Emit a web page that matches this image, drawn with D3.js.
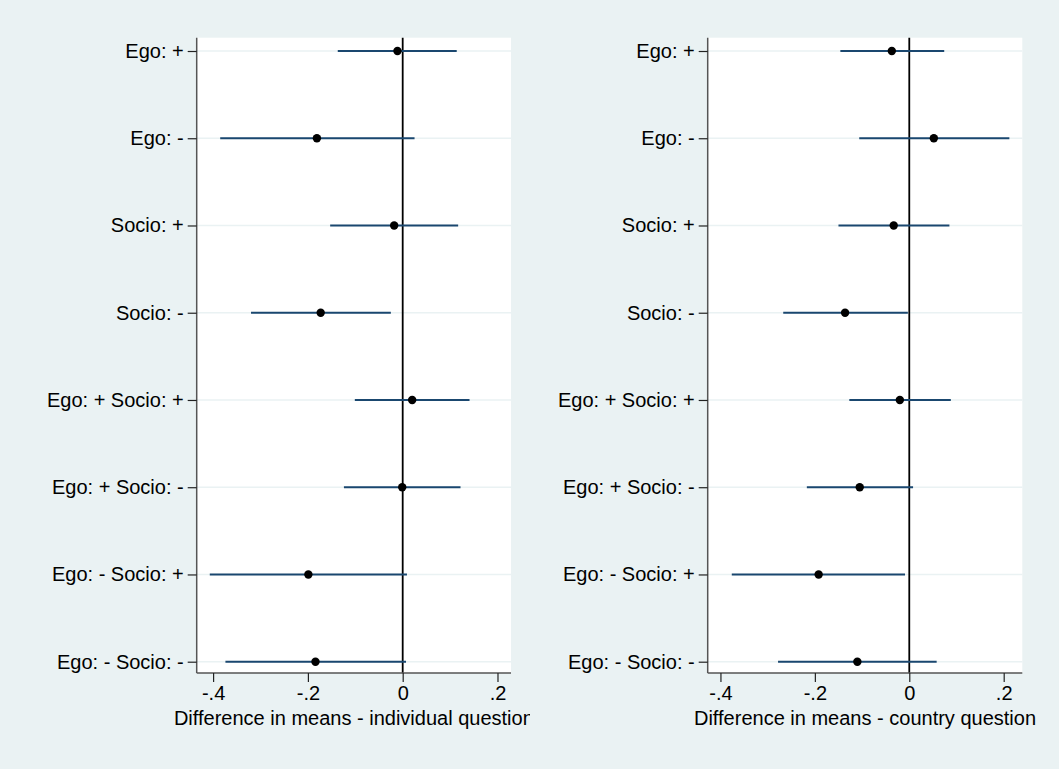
<!DOCTYPE html>
<html lang="en">
<head>
  <meta charset="UTF-8">
  <title>Difference in means</title>
  <script src="https://d3js.org/d3.v7.min.js"></script>
  <style>
    body { margin: 0; padding: 0; background-color: #eaf2f3; }
    svg text { font-family: "Liberation Sans", Arial, sans-serif; fill: #000; }
  </style>
</head>
<body>
  <svg id="chart"></svg>
  <script>
    // Data
    const categories = ["Ego: +", "Ego: -", "Socio: +", "Socio: -",
      "Ego: + Socio: +", "Ego: + Socio: -", "Ego: - Socio: +", "Ego: - Socio: -"];
    const xTicks = [-0.4, -0.2, 0, 0.2];

    const indivPoint = [-0.011, -0.181, -0.018, -0.173, 0.020, -0.001, -0.199, -0.184];
    const indivLow   = [-0.137, -0.385, -0.153, -0.320, -0.101, -0.124, -0.407, -0.374];
    const indivHigh  = [0.114, 0.025, 0.117, -0.025, 0.141, 0.122, 0.009, 0.007];

    const countryPoint = [-0.037, 0.052, -0.033, -0.136, -0.020, -0.105, -0.192, -0.110];
    const countryLow   = [-0.146, -0.106, -0.150, -0.267, -0.127, -0.217, -0.376, -0.278];
    const countryHigh  = [0.074, 0.212, 0.085, -0.003, 0.088, 0.008, -0.009, 0.058];

    const width = 1059, height = 769;
    const fontSize = "20px";
    const svg = d3.select("#chart").attr("width", width).attr("height", height);

    svg.append("rect").attr("width", width).attr("height", height).attr("fill", "#eaf2f3");

    const fmt = v => v === 0 ? "0" : (v < 0 ? "-" : "") + String(Math.abs(v)).replace(/^0/, "");

    function panel(cfg) {
      const g = svg.append("g");
      const clipId = "clip" + cfg.id;
      svg.append("clipPath").attr("id", clipId)
        .append("rect").attr("x", cfg.clip[0]).attr("y", 0)
        .attr("width", cfg.clip[1] - cfg.clip[0]).attr("height", height);
      g.attr("clip-path", `url(#${clipId})`);

      const x = d3.scaleLinear().domain(cfg.xDomain).range([cfg.left, cfg.right]);
      const y = d3.scaleLinear().domain([0, categories.length - 1]).range([51, 661.7]);

      // plot region
      g.append("rect")
        .attr("x", cfg.left).attr("y", cfg.top)
        .attr("width", cfg.right - cfg.left).attr("height", cfg.bottom - cfg.top)
        .attr("fill", "#fff");

      // gridlines
      g.selectAll("line.grid").data(categories).join("line")
        .attr("class", "grid")
        .attr("x1", cfg.left).attr("x2", cfg.right)
        .attr("y1", (d, i) => y(i)).attr("y2", (d, i) => y(i))
        .attr("stroke", "#eaf2f3").attr("stroke-width", 1.6);

      // zero line
      g.append("line")
        .attr("x1", x(0)).attr("x2", x(0))
        .attr("y1", cfg.top).attr("y2", cfg.bottom)
        .attr("stroke", "#000").attr("stroke-width", 1.8);

      // confidence intervals
      g.selectAll("line.ci").data(cfg.point).join("line")
        .attr("class", "ci")
        .attr("x1", (d, i) => x(cfg.low[i])).attr("x2", (d, i) => x(cfg.high[i]))
        .attr("y1", (d, i) => y(i)).attr("y2", (d, i) => y(i))
        .attr("stroke", "#1a476f").attr("stroke-width", 2);

      // point estimates
      g.selectAll("circle.pt").data(cfg.point).join("circle")
        .attr("class", "pt")
        .attr("cx", d => x(d)).attr("cy", (d, i) => y(i))
        .attr("r", 4.2).attr("fill", "#000");

      // y axis
      const yAxis = g.append("g").attr("transform", `translate(${cfg.left},0)`)
        .call(d3.axisLeft(y).tickValues(d3.range(categories.length))
          .tickFormat(i => categories[i]).tickSize(9).tickPadding(4));
      yAxis.select(".domain").attr("d", `M0,${cfg.top}V${cfg.bottom}`)
        .attr("stroke", "#555").attr("stroke-width", 1.5);
      yAxis.selectAll(".tick line").attr("stroke", "#222").attr("stroke-width", 1.2);
      yAxis.selectAll(".tick text").attr("font-size", fontSize).attr("fill", "#000");

      // x axis
      const xAxis = g.append("g").attr("transform", `translate(0,${cfg.bottom})`)
        .call(d3.axisBottom(x).tickValues(xTicks).tickFormat(fmt).tickSize(9).tickPadding(4));
      xAxis.select(".domain").attr("d", `M${cfg.left},0H${cfg.right}`)
        .attr("stroke", "#555").attr("stroke-width", 1.5);
      xAxis.selectAll(".tick line").attr("stroke", "#222").attr("stroke-width", 1.2);
      xAxis.selectAll(".tick text").attr("font-size", fontSize).attr("fill", "#000");

      // x title
      g.append("text")
        .attr("x", (cfg.left + cfg.right) / 2).attr("y", 725)
        .attr("text-anchor", "middle").attr("font-size", fontSize)
        .text(cfg.title);
    }

    panel({
      id: 1, left: 196.7, right: 511, top: 37.7, bottom: 673,
      xDomain: [-0.4346, 0.2285], clip: [0, 530],
      point: indivPoint, low: indivLow, high: indivHigh,
      title: "Difference in means - individual question"
    });

    panel({
      id: 2, left: 707.7, right: 1022.3, top: 37.7, bottom: 673,
      xDomain: [-0.427, 0.2394], clip: [530, 1059],
      point: countryPoint, low: countryLow, high: countryHigh,
      title: "Difference in means - country question"
    });
  </script>
</body>
</html>
